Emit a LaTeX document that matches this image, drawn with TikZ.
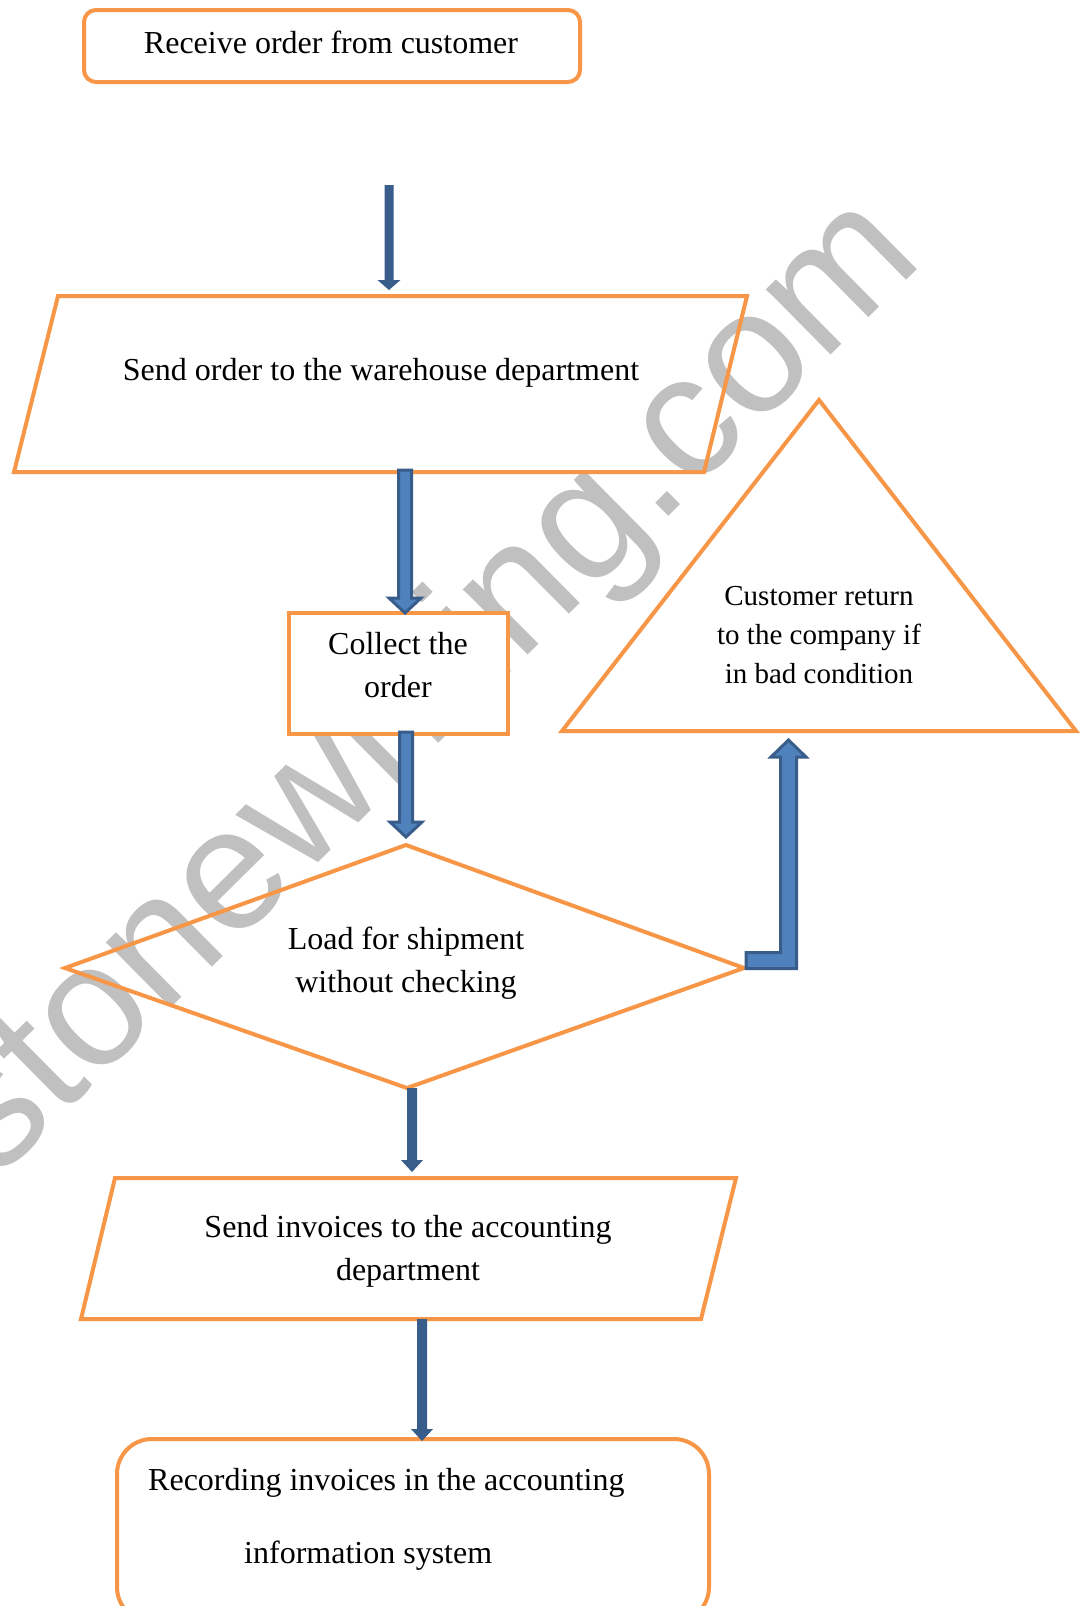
\documentclass[tikz,border=0pt]{standalone}
\usepackage{fontspec}
\setmainfont{Liberation Serif}
\newfontfamily\wmfont{Liberation Sans}
\usetikzlibrary{calc}
\definecolor{orng}{HTML}{F79646}
\definecolor{bfill}{HTML}{4F81BD}
\definecolor{bdark}{HTML}{385D8A}
\definecolor{wmgray}{HTML}{C0C0C0}
% #1 style, #2 start coord, #3 tip coord, #4 half shaft, #5 half head, #6 head length
\newcommand\blockarr[6][]{%
  \path[#1] ($(#2)+(-#4,0)$) -- ($(#2)+(#4,0)$) -- ($(#3)+(#4,-#6)$) -- ($(#3)+(#5,-#6)$)
    -- (#3) -- ($(#3)+(-#5,-#6)$) -- ($(#3)+(-#4,-#6)$) -- cycle;}
\begin{document}
\begin{tikzpicture}[x=1pt,y=-1pt,
  shapeline/.style={draw=orng,line width=4pt,line join=miter},
  txt/.style={font=\fontsize{32}{43}\selectfont,align=center,inner sep=0pt},
  smalltxt/.style={font=\fontsize{29}{39}\selectfont,align=center,inner sep=0pt},
  thinarrow/.style={fill=bdark},
  fatarrow/.style={fill=bfill,draw=bdark,line width=3pt,line join=miter}]
\useasboundingbox (0,0) rectangle (1084,1606);
\fill[white] (0,0) rectangle (1084,1606);
% watermark
\node[rotate=44.7,text=wmgray,font=\wmfont\fontsize{174}{174}\selectfont,inner sep=0pt] (wm) at (430,689) {stonewriting.com};
% shapes
\draw[shapeline,rounded corners=12pt] (84,10) rectangle (580,82);
\node[txt] (receive) at (331,42) {Receive order from customer};
\draw[shapeline] (58,296) -- (747,296) -- (704,472) -- (14,472) -- cycle;
\node[txt] (sendorder) at (381,373) {Send order to the warehouse department};
\draw[shapeline,fill=white] (289,613) rectangle (508,734);
\node[txt] (collect) at (398,665) {Collect the\\order};
\draw[shapeline] (406,845) -- (744,968) -- (407,1088) -- (65,968) -- cycle;
\node[txt] (load) at (406,963) {Load for shipment\\without checking};
\draw[shapeline] (819,400) -- (1076,731) -- (562,731) -- cycle;
\node[smalltxt] (custret) at (819,635) {Customer return\\to the company if\\in bad condition};
\draw[shapeline] (115,1178) -- (736,1178) -- (701,1319) -- (81,1319) -- cycle;
\node[txt] (invoices) at (408,1251) {Send invoices to the accounting\\department};
\draw[shapeline,rounded corners=35pt] (117,1439) rectangle (709,1622);
\node[txt,anchor=west] (rec1) at (148,1483) {Recording invoices in the accounting};
\node[txt,anchor=west] (rec2) at (244,1556) {information system};
% connector ends
\coordinate (a1s) at (389,185); \coordinate (a1e) at (389,290);
\coordinate (a2s) at (405,470); \coordinate (a2e) at (405,613);
\coordinate (a3s) at (406,732); \coordinate (a3e) at (406,837);
\coordinate (a4s) at (412,1088); \coordinate (a4e) at (412,1172);
\coordinate (a5s) at (422,1319); \coordinate (a5e) at (422,1441);
\coordinate (dright) at (746,960.5); \coordinate (tbot) at (788.5,740);
% arrows
\blockarr[thinarrow]{a1s}{a1e}{4.5}{11.5}{10}
\blockarr[fatarrow]{a2s}{a2e}{6.5}{16}{15}
\blockarr[fatarrow]{a3s}{a3e}{6.5}{16}{15}
\blockarr[thinarrow]{a4s}{a4e}{5}{11}{12}
\blockarr[thinarrow]{a5s}{a5e}{5}{11}{12}
\path[fatarrow] ($(dright)+(0,-8)$) -- ($(tbot|-dright)+(-8,-8)$) -- ($(tbot)+(-8,17)$)
  -- ($(tbot)+(-17.5,17)$) -- (tbot) -- ($(tbot)+(17.5,17)$) -- ($(tbot)+(8,17)$)
  -- ($(tbot|-dright)+(8,8)$) -- ($(dright)+(0,8)$) -- cycle;
\end{tikzpicture}
\end{document}
